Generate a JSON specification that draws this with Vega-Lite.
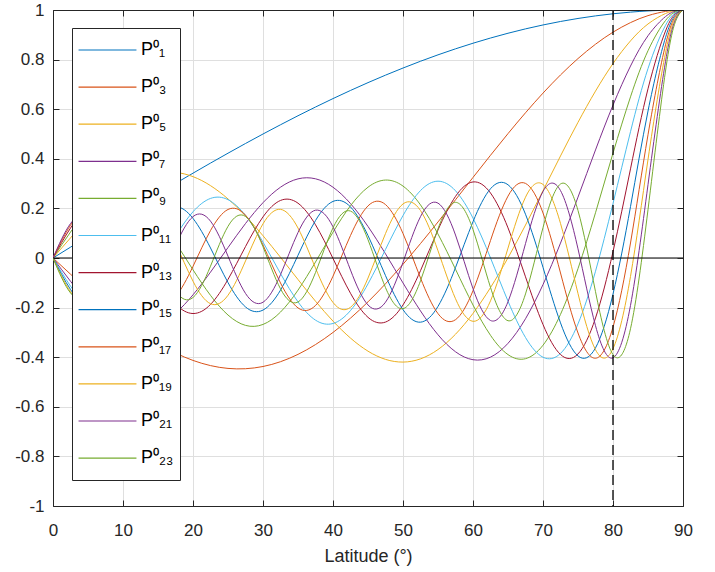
{
  "$schema": "https://vega.github.io/schema/vega-lite/v6.json",
  "width": 630,
  "height": 496,
  "autosize": {"type": "none"},
  "padding": {"left": 53, "top": 10, "right": 32, "bottom": 66},
  "background": "white",
  "config": {"view": {"stroke": null}, "font": "Liberation Sans"},
  "data": {"values": [
{"n":"P⁰₁","lat":0,"v":0},{"n":"P⁰₁","lat":2.5,"v":0.0436},{"n":"P⁰₁","lat":5,"v":0.0872},{"n":"P⁰₁","lat":7.5,"v":0.1305},{"n":"P⁰₁","lat":10,"v":0.1736},{"n":"P⁰₁","lat":12.5,"v":0.2164},{"n":"P⁰₁","lat":15,"v":0.2588},{"n":"P⁰₁","lat":17.5,"v":0.3007},{"n":"P⁰₁","lat":20,"v":0.342},{"n":"P⁰₁","lat":22.5,"v":0.3827},{"n":"P⁰₁","lat":25,"v":0.4226},{"n":"P⁰₁","lat":27.5,"v":0.4617},{"n":"P⁰₁","lat":30,"v":0.5},{"n":"P⁰₁","lat":32.5,"v":0.5373},{"n":"P⁰₁","lat":35,"v":0.5736},{"n":"P⁰₁","lat":37.5,"v":0.6088},{"n":"P⁰₁","lat":40,"v":0.6428},{"n":"P⁰₁","lat":42.5,"v":0.6756},{"n":"P⁰₁","lat":45,"v":0.7071},{"n":"P⁰₁","lat":47.5,"v":0.7373},{"n":"P⁰₁","lat":50,"v":0.766},{"n":"P⁰₁","lat":52.5,"v":0.7934},{"n":"P⁰₁","lat":55,"v":0.8192},{"n":"P⁰₁","lat":57.5,"v":0.8434},{"n":"P⁰₁","lat":60,"v":0.866},{"n":"P⁰₁","lat":62.5,"v":0.887},{"n":"P⁰₁","lat":65,"v":0.9063},{"n":"P⁰₁","lat":67.5,"v":0.9239},{"n":"P⁰₁","lat":70,"v":0.9397},{"n":"P⁰₁","lat":72.5,"v":0.9537},{"n":"P⁰₁","lat":75,"v":0.9659},{"n":"P⁰₁","lat":77.5,"v":0.9763},{"n":"P⁰₁","lat":80,"v":0.9848},{"n":"P⁰₁","lat":82.5,"v":0.9914},{"n":"P⁰₁","lat":85,"v":0.9962},{"n":"P⁰₁","lat":87.5,"v":0.999},{"n":"P⁰₁","lat":89,"v":0.9998},{"n":"P⁰₁","lat":90,"v":1},
{"n":"P⁰₃","lat":0,"v":0},{"n":"P⁰₃","lat":2.5,"v":-0.0652},{"n":"P⁰₃","lat":5,"v":-0.1291},{"n":"P⁰₃","lat":7.5,"v":-0.1902},{"n":"P⁰₃","lat":10,"v":-0.2474},{"n":"P⁰₃","lat":12.5,"v":-0.2993},{"n":"P⁰₃","lat":15,"v":-0.3449},{"n":"P⁰₃","lat":17.5,"v":-0.3831},{"n":"P⁰₃","lat":20,"v":-0.413},{"n":"P⁰₃","lat":22.5,"v":-0.4339},{"n":"P⁰₃","lat":25,"v":-0.4452},{"n":"P⁰₃","lat":27.5,"v":-0.4465},{"n":"P⁰₃","lat":30,"v":-0.4375},{"n":"P⁰₃","lat":32.5,"v":-0.4182},{"n":"P⁰₃","lat":35,"v":-0.3886},{"n":"P⁰₃","lat":37.5,"v":-0.3491},{"n":"P⁰₃","lat":40,"v":-0.3002},{"n":"P⁰₃","lat":42.5,"v":-0.2425},{"n":"P⁰₃","lat":45,"v":-0.1768},{"n":"P⁰₃","lat":47.5,"v":-0.104},{"n":"P⁰₃","lat":50,"v":-0.0252},{"n":"P⁰₃","lat":52.5,"v":0.0583},{"n":"P⁰₃","lat":55,"v":0.1454},{"n":"P⁰₃","lat":57.5,"v":0.2347},{"n":"P⁰₃","lat":60,"v":0.3248},{"n":"P⁰₃","lat":62.5,"v":0.4142},{"n":"P⁰₃","lat":65,"v":0.5016},{"n":"P⁰₃","lat":67.5,"v":0.5856},{"n":"P⁰₃","lat":70,"v":0.6649},{"n":"P⁰₃","lat":72.5,"v":0.7381},{"n":"P⁰₃","lat":75,"v":0.8042},{"n":"P⁰₃","lat":77.5,"v":0.862},{"n":"P⁰₃","lat":80,"v":0.9106},{"n":"P⁰₃","lat":82.5,"v":0.9492},{"n":"P⁰₃","lat":85,"v":0.9773},{"n":"P⁰₃","lat":87.5,"v":0.9943},{"n":"P⁰₃","lat":89,"v":0.9991},{"n":"P⁰₃","lat":90,"v":1},
{"n":"P⁰₅","lat":0,"v":0},{"n":"P⁰₅","lat":2.5,"v":0.0811},{"n":"P⁰₅","lat":5,"v":0.1577},{"n":"P⁰₅","lat":7.5,"v":0.2256},{"n":"P⁰₅","lat":10,"v":0.281},{"n":"P⁰₅","lat":12.5,"v":0.3208},{"n":"P⁰₅","lat":15,"v":0.3427},{"n":"P⁰₅","lat":17.5,"v":0.3453},{"n":"P⁰₅","lat":20,"v":0.3281},{"n":"P⁰₅","lat":22.5,"v":0.2918},{"n":"P⁰₅","lat":25,"v":0.2381},{"n":"P⁰₅","lat":27.5,"v":0.1696},{"n":"P⁰₅","lat":30,"v":0.0898},{"n":"P⁰₅","lat":32.5,"v":0.0028},{"n":"P⁰₅","lat":35,"v":-0.0868},{"n":"P⁰₅","lat":37.5,"v":-0.1742},{"n":"P⁰₅","lat":40,"v":-0.2545},{"n":"P⁰₅","lat":42.5,"v":-0.323},{"n":"P⁰₅","lat":45,"v":-0.3757},{"n":"P⁰₅","lat":47.5,"v":-0.4088},{"n":"P⁰₅","lat":50,"v":-0.4197},{"n":"P⁰₅","lat":52.5,"v":-0.4067},{"n":"P⁰₅","lat":55,"v":-0.3691},{"n":"P⁰₅","lat":57.5,"v":-0.3074},{"n":"P⁰₅","lat":60,"v":-0.2233},{"n":"P⁰₅","lat":62.5,"v":-0.1193},{"n":"P⁰₅","lat":65,"v":0.0009},{"n":"P⁰₅","lat":67.5,"v":0.1328},{"n":"P⁰₅","lat":70,"v":0.2715},{"n":"P⁰₅","lat":72.5,"v":0.4115},{"n":"P⁰₅","lat":75,"v":0.5471},{"n":"P⁰₅","lat":77.5,"v":0.673},{"n":"P⁰₅","lat":80,"v":0.784},{"n":"P⁰₅","lat":82.5,"v":0.8755},{"n":"P⁰₅","lat":85,"v":0.9437},{"n":"P⁰₅","lat":87.5,"v":0.9858},{"n":"P⁰₅","lat":89,"v":0.9977},{"n":"P⁰₅","lat":90,"v":1},
{"n":"P⁰₇","lat":0,"v":0},{"n":"P⁰₇","lat":2.5,"v":-0.0938},{"n":"P⁰₇","lat":5,"v":-0.1778},{"n":"P⁰₇","lat":7.5,"v":-0.2434},{"n":"P⁰₇","lat":10,"v":-0.2835},{"n":"P⁰₇","lat":12.5,"v":-0.2938},{"n":"P⁰₇","lat":15,"v":-0.2731},{"n":"P⁰₇","lat":17.5,"v":-0.223},{"n":"P⁰₇","lat":20,"v":-0.1485},{"n":"P⁰₇","lat":22.5,"v":-0.057},{"n":"P⁰₇","lat":25,"v":0.0422},{"n":"P⁰₇","lat":27.5,"v":0.139},{"n":"P⁰₇","lat":30,"v":0.2231},{"n":"P⁰₇","lat":32.5,"v":0.2855},{"n":"P⁰₇","lat":35,"v":0.3191},{"n":"P⁰₇","lat":37.5,"v":0.3194},{"n":"P⁰₇","lat":40,"v":0.2854},{"n":"P⁰₇","lat":42.5,"v":0.2194},{"n":"P⁰₇","lat":45,"v":0.1271},{"n":"P⁰₇","lat":47.5,"v":0.0168},{"n":"P⁰₇","lat":50,"v":-0.1006},{"n":"P⁰₇","lat":52.5,"v":-0.2134},{"n":"P⁰₇","lat":55,"v":-0.3096},{"n":"P⁰₇","lat":57.5,"v":-0.3781},{"n":"P⁰₇","lat":60,"v":-0.4102},{"n":"P⁰₇","lat":62.5,"v":-0.3997},{"n":"P⁰₇","lat":65,"v":-0.3441},{"n":"P⁰₇","lat":67.5,"v":-0.2449},{"n":"P⁰₇","lat":70,"v":-0.1072},{"n":"P⁰₇","lat":72.5,"v":0.0601},{"n":"P⁰₇","lat":75,"v":0.2455},{"n":"P⁰₇","lat":77.5,"v":0.4357},{"n":"P⁰₇","lat":80,"v":0.6164},{"n":"P⁰₇","lat":82.5,"v":0.774},{"n":"P⁰₇","lat":85,"v":0.8962},{"n":"P⁰₇","lat":87.5,"v":0.9735},{"n":"P⁰₇","lat":89,"v":0.9957},{"n":"P⁰₇","lat":90,"v":1},
{"n":"P⁰₉","lat":0,"v":0},{"n":"P⁰₉","lat":2.5,"v":0.1044},{"n":"P⁰₉","lat":5,"v":0.1913},{"n":"P⁰₉","lat":7.5,"v":0.2462},{"n":"P⁰₉","lat":10,"v":0.2596},{"n":"P⁰₉","lat":12.5,"v":0.2292},{"n":"P⁰₉","lat":15,"v":0.1595},{"n":"P⁰₉","lat":17.5,"v":0.0619},{"n":"P⁰₉","lat":20,"v":-0.0476},{"n":"P⁰₉","lat":22.5,"v":-0.1507},{"n":"P⁰₉","lat":25,"v":-0.23},{"n":"P⁰₉","lat":27.5,"v":-0.2717},{"n":"P⁰₉","lat":30,"v":-0.2679},{"n":"P⁰₉","lat":32.5,"v":-0.2181},{"n":"P⁰₉","lat":35,"v":-0.1296},{"n":"P⁰₉","lat":37.5,"v":-0.0161},{"n":"P⁰₉","lat":40,"v":0.1041},{"n":"P⁰₉","lat":42.5,"v":0.2108},{"n":"P⁰₉","lat":45,"v":0.2855},{"n":"P⁰₉","lat":47.5,"v":0.3143},{"n":"P⁰₉","lat":50,"v":0.29},{"n":"P⁰₉","lat":52.5,"v":0.2141},{"n":"P⁰₉","lat":55,"v":0.0965},{"n":"P⁰₉","lat":57.5,"v":-0.0454},{"n":"P⁰₉","lat":60,"v":-0.1896},{"n":"P⁰₉","lat":62.5,"v":-0.3117},{"n":"P⁰₉","lat":65,"v":-0.3896},{"n":"P⁰₉","lat":67.5,"v":-0.406},{"n":"P⁰₉","lat":70,"v":-0.3517},{"n":"P⁰₉","lat":72.5,"v":-0.2272},{"n":"P⁰₉","lat":75,"v":-0.0428},{"n":"P⁰₉","lat":77.5,"v":0.1824},{"n":"P⁰₉","lat":80,"v":0.4228},{"n":"P⁰₉","lat":82.5,"v":0.6498},{"n":"P⁰₉","lat":85,"v":0.8358},{"n":"P⁰₉","lat":87.5,"v":0.9576},{"n":"P⁰₉","lat":89,"v":0.9931},{"n":"P⁰₉","lat":90,"v":1},
{"n":"P⁰₁₁","lat":0,"v":0},{"n":"P⁰₁₁","lat":2.5,"v":-0.1133},{"n":"P⁰₁₁","lat":5,"v":-0.1988},{"n":"P⁰₁₁","lat":7.5,"v":-0.2357},{"n":"P⁰₁₁","lat":10,"v":-0.2146},{"n":"P⁰₁₁","lat":12.5,"v":-0.1403},{"n":"P⁰₁₁","lat":15,"v":-0.0305},{"n":"P⁰₁₁","lat":17.5,"v":0.088},{"n":"P⁰₁₁","lat":20,"v":0.1864},{"n":"P⁰₁₁","lat":22.5,"v":0.2402},{"n":"P⁰₁₁","lat":25,"v":0.2352},{"n":"P⁰₁₁","lat":27.5,"v":0.1716},{"n":"P⁰₁₁","lat":30,"v":0.0639},{"n":"P⁰₁₁","lat":32.5,"v":-0.0626},{"n":"P⁰₁₁","lat":35,"v":-0.1769},{"n":"P⁰₁₁","lat":37.5,"v":-0.2506},{"n":"P⁰₁₁","lat":40,"v":-0.2641},{"n":"P⁰₁₁","lat":42.5,"v":-0.2118},{"n":"P⁰₁₁","lat":45,"v":-0.1042},{"n":"P⁰₁₁","lat":47.5,"v":0.0345},{"n":"P⁰₁₁","lat":50,"v":0.1712},{"n":"P⁰₁₁","lat":52.5,"v":0.272},{"n":"P⁰₁₁","lat":55,"v":0.3097},{"n":"P⁰₁₁","lat":57.5,"v":0.2711},{"n":"P⁰₁₁","lat":60,"v":0.1607},{"n":"P⁰₁₁","lat":62.5,"v":0.0004},{"n":"P⁰₁₁","lat":65,"v":-0.174},{"n":"P⁰₁₁","lat":67.5,"v":-0.3206},{"n":"P⁰₁₁","lat":70,"v":-0.4001},{"n":"P⁰₁₁","lat":72.5,"v":-0.3849},{"n":"P⁰₁₁","lat":75,"v":-0.2655},{"n":"P⁰₁₁","lat":77.5,"v":-0.0534},{"n":"P⁰₁₁","lat":80,"v":0.22},{"n":"P⁰₁₁","lat":82.5,"v":0.5093},{"n":"P⁰₁₁","lat":85,"v":0.764},{"n":"P⁰₁₁","lat":87.5,"v":0.9381},{"n":"P⁰₁₁","lat":89,"v":0.99},{"n":"P⁰₁₁","lat":90,"v":1},
{"n":"P⁰₁₃","lat":0,"v":0},{"n":"P⁰₁₃","lat":2.5,"v":0.1207},{"n":"P⁰₁₃","lat":5,"v":0.201},{"n":"P⁰₁₃","lat":7.5,"v":0.2138},{"n":"P⁰₁₃","lat":10,"v":0.1544},{"n":"P⁰₁₃","lat":12.5,"v":0.0424},{"n":"P⁰₁₃","lat":15,"v":-0.085},{"n":"P⁰₁₃","lat":17.5,"v":-0.1852},{"n":"P⁰₁₃","lat":20,"v":-0.2239},{"n":"P⁰₁₃","lat":22.5,"v":-0.1873},{"n":"P⁰₁₃","lat":25,"v":-0.0863},{"n":"P⁰₁₃","lat":27.5,"v":0.0461},{"n":"P⁰₁₃","lat":30,"v":0.1658},{"n":"P⁰₁₃","lat":32.5,"v":0.2321},{"n":"P⁰₁₃","lat":35,"v":0.221},{"n":"P⁰₁₃","lat":37.5,"v":0.1339},{"n":"P⁰₁₃","lat":40,"v":-0.0019},{"n":"P⁰₁₃","lat":42.5,"v":-0.1422},{"n":"P⁰₁₃","lat":45,"v":-0.2393},{"n":"P⁰₁₃","lat":47.5,"v":-0.2584},{"n":"P⁰₁₃","lat":50,"v":-0.1893},{"n":"P⁰₁₃","lat":52.5,"v":-0.051},{"n":"P⁰₁₃","lat":55,"v":0.1131},{"n":"P⁰₁₃","lat":57.5,"v":0.2484},{"n":"P⁰₁₃","lat":60,"v":0.3067},{"n":"P⁰₁₃","lat":62.5,"v":0.2621},{"n":"P⁰₁₃","lat":65,"v":0.1215},{"n":"P⁰₁₃","lat":67.5,"v":-0.0759},{"n":"P⁰₁₃","lat":70,"v":-0.2683},{"n":"P⁰₁₃","lat":72.5,"v":-0.3891},{"n":"P⁰₁₃","lat":75,"v":-0.3869},{"n":"P⁰₁₃","lat":77.5,"v":-0.2421},{"n":"P⁰₁₃","lat":80,"v":0.0253},{"n":"P⁰₁₃","lat":82.5,"v":0.3594},{"n":"P⁰₁₃","lat":85,"v":0.6823},{"n":"P⁰₁₃","lat":87.5,"v":0.9152},{"n":"P⁰₁₃","lat":89,"v":0.9862},{"n":"P⁰₁₃","lat":90,"v":1},
{"n":"P⁰₁₅","lat":0,"v":0},{"n":"P⁰₁₅","lat":2.5,"v":-0.1269},{"n":"P⁰₁₅","lat":5,"v":-0.1982},{"n":"P⁰₁₅","lat":7.5,"v":-0.1824},{"n":"P⁰₁₅","lat":10,"v":-0.086},{"n":"P⁰₁₅","lat":12.5,"v":0.0491},{"n":"P⁰₁₅","lat":15,"v":0.1638},{"n":"P⁰₁₅","lat":17.5,"v":0.2074},{"n":"P⁰₁₅","lat":20,"v":0.1597},{"n":"P⁰₁₅","lat":22.5,"v":0.0404},{"n":"P⁰₁₅","lat":25,"v":-0.099},{"n":"P⁰₁₅","lat":27.5,"v":-0.1973},{"n":"P⁰₁₅","lat":30,"v":-0.21},{"n":"P⁰₁₅","lat":32.5,"v":-0.1295},{"n":"P⁰₁₅","lat":35,"v":0.011},{"n":"P⁰₁₅","lat":37.5,"v":0.151},{"n":"P⁰₁₅","lat":40,"v":0.2282},{"n":"P⁰₁₅","lat":42.5,"v":0.206},{"n":"P⁰₁₅","lat":45,"v":0.0904},{"n":"P⁰₁₅","lat":47.5,"v":-0.071},{"n":"P⁰₁₅","lat":50,"v":-0.2083},{"n":"P⁰₁₅","lat":52.5,"v":-0.2588},{"n":"P⁰₁₅","lat":55,"v":-0.1951},{"n":"P⁰₁₅","lat":57.5,"v":-0.0386},{"n":"P⁰₁₅","lat":60,"v":0.1466},{"n":"P⁰₁₅","lat":62.5,"v":0.2793},{"n":"P⁰₁₅","lat":65,"v":0.2953},{"n":"P⁰₁₅","lat":67.5,"v":0.1764},{"n":"P⁰₁₅","lat":70,"v":-0.0377},{"n":"P⁰₁₅","lat":72.5,"v":-0.2615},{"n":"P⁰₁₅","lat":75,"v":-0.3949},{"n":"P⁰₁₅","lat":77.5,"v":-0.3625},{"n":"P⁰₁₅","lat":80,"v":-0.1453},{"n":"P⁰₁₅","lat":82.5,"v":0.2073},{"n":"P⁰₁₅","lat":85,"v":0.5926},{"n":"P⁰₁₅","lat":87.5,"v":0.8889},{"n":"P⁰₁₅","lat":89,"v":0.9818},{"n":"P⁰₁₅","lat":90,"v":1},
{"n":"P⁰₁₇","lat":0,"v":0},{"n":"P⁰₁₇","lat":2.5,"v":0.132},{"n":"P⁰₁₇","lat":5,"v":0.1909},{"n":"P⁰₁₇","lat":7.5,"v":0.1439},{"n":"P⁰₁₇","lat":10,"v":0.0165},{"n":"P⁰₁₇","lat":12.5,"v":-0.121},{"n":"P⁰₁₇","lat":15,"v":-0.1924},{"n":"P⁰₁₇","lat":17.5,"v":-0.1572},{"n":"P⁰₁₇","lat":20,"v":-0.0337},{"n":"P⁰₁₇","lat":22.5,"v":0.1107},{"n":"P⁰₁₇","lat":25,"v":0.1957},{"n":"P⁰₁₇","lat":27.5,"v":0.1727},{"n":"P⁰₁₇","lat":30,"v":0.0522},{"n":"P⁰₁₇","lat":32.5,"v":-0.1007},{"n":"P⁰₁₇","lat":35,"v":-0.2012},{"n":"P⁰₁₇","lat":37.5,"v":-0.1915},{"n":"P⁰₁₇","lat":40,"v":-0.0733},{"n":"P⁰₁₇","lat":42.5,"v":0.0908},{"n":"P⁰₁₇","lat":45,"v":0.2101},{"n":"P⁰₁₇","lat":47.5,"v":0.2155},{"n":"P⁰₁₇","lat":50,"v":0.0987},{"n":"P⁰₁₇","lat":52.5,"v":-0.0807},{"n":"P⁰₁₇","lat":55,"v":-0.2244},{"n":"P⁰₁₇","lat":57.5,"v":-0.2488},{"n":"P⁰₁₇","lat":60,"v":-0.1319},{"n":"P⁰₁₇","lat":62.5,"v":0.0704},{"n":"P⁰₁₇","lat":65,"v":0.2495},{"n":"P⁰₁₇","lat":67.5,"v":0.3009},{"n":"P⁰₁₇","lat":70,"v":0.1815},{"n":"P⁰₁₇","lat":72.5,"v":-0.0604},{"n":"P⁰₁₇","lat":75,"v":-0.3024},{"n":"P⁰₁₇","lat":77.5,"v":-0.4043},{"n":"P⁰₁₇","lat":80,"v":-0.2787},{"n":"P⁰₁₇","lat":82.5,"v":0.0605},{"n":"P⁰₁₇","lat":85,"v":0.4968},{"n":"P⁰₁₇","lat":87.5,"v":0.8595},{"n":"P⁰₁₇","lat":89,"v":0.9768},{"n":"P⁰₁₇","lat":90,"v":1},
{"n":"P⁰₁₉","lat":0,"v":0},{"n":"P⁰₁₉","lat":2.5,"v":-0.1359},{"n":"P⁰₁₉","lat":5,"v":-0.1794},{"n":"P⁰₁₉","lat":7.5,"v":-0.1007},{"n":"P⁰₁₉","lat":10,"v":0.0473},{"n":"P⁰₁₉","lat":12.5,"v":0.1641},{"n":"P⁰₁₉","lat":15,"v":0.1697},{"n":"P⁰₁₉","lat":17.5,"v":0.0591},{"n":"P⁰₁₉","lat":20,"v":-0.0936},{"n":"P⁰₁₉","lat":22.5,"v":-0.1844},{"n":"P⁰₁₉","lat":25,"v":-0.1502},{"n":"P⁰₁₉","lat":27.5,"v":-0.0119},{"n":"P⁰₁₉","lat":30,"v":0.1378},{"n":"P⁰₁₉","lat":32.5,"v":0.1962},{"n":"P⁰₁₉","lat":35,"v":0.1208},{"n":"P⁰₁₉","lat":37.5,"v":-0.0405},{"n":"P⁰₁₉","lat":40,"v":-0.1793},{"n":"P⁰₁₉","lat":42.5,"v":-0.1988},{"n":"P⁰₁₉","lat":45,"v":-0.0809},{"n":"P⁰₁₉","lat":47.5,"v":0.0986},{"n":"P⁰₁₉","lat":50,"v":0.218},{"n":"P⁰₁₉","lat":52.5,"v":0.1914},{"n":"P⁰₁₉","lat":55,"v":0.029},{"n":"P⁰₁₉","lat":57.5,"v":-0.1643},{"n":"P⁰₁₉","lat":60,"v":-0.2553},{"n":"P⁰₁₉","lat":62.5,"v":-0.1727},{"n":"P⁰₁₉","lat":65,"v":0.04},{"n":"P⁰₁₉","lat":67.5,"v":0.2451},{"n":"P⁰₁₉","lat":70,"v":0.2966},{"n":"P⁰₁₉","lat":72.5,"v":0.1395},{"n":"P⁰₁₉","lat":75,"v":-0.1433},{"n":"P⁰₁₉","lat":77.5,"v":-0.3699},{"n":"P⁰₁₉","lat":80,"v":-0.3659},{"n":"P⁰₁₉","lat":82.5,"v":-0.0744},{"n":"P⁰₁₉","lat":85,"v":0.3972},{"n":"P⁰₁₉","lat":87.5,"v":0.8271},{"n":"P⁰₁₉","lat":89,"v":0.9713},{"n":"P⁰₁₉","lat":90,"v":1},
{"n":"P⁰₂₁","lat":0,"v":0},{"n":"P⁰₂₁","lat":2.5,"v":0.1388},{"n":"P⁰₂₁","lat":5,"v":0.1644},{"n":"P⁰₂₁","lat":7.5,"v":0.0554},{"n":"P⁰₂₁","lat":10,"v":-0.0996},{"n":"P⁰₂₁","lat":12.5,"v":-0.1741},{"n":"P⁰₂₁","lat":15,"v":-0.1064},{"n":"P⁰₂₁","lat":17.5,"v":0.0496},{"n":"P⁰₂₁","lat":20,"v":0.1669},{"n":"P⁰₂₁","lat":22.5,"v":0.1486},{"n":"P⁰₂₁","lat":25,"v":0.0074},{"n":"P⁰₂₁","lat":27.5,"v":-0.1428},{"n":"P⁰₂₁","lat":30,"v":-0.1784},{"n":"P⁰₂₁","lat":32.5,"v":-0.0672},{"n":"P⁰₂₁","lat":35,"v":0.1028},{"n":"P⁰₂₁","lat":37.5,"v":0.1928},{"n":"P⁰₂₁","lat":40,"v":0.1256},{"n":"P⁰₂₁","lat":42.5,"v":-0.0487},{"n":"P⁰₂₁","lat":45,"v":-0.1895},{"n":"P⁰₂₁","lat":47.5,"v":-0.1782},{"n":"P⁰₂₁","lat":50,"v":-0.0172},{"n":"P⁰₂₁","lat":52.5,"v":0.1669},{"n":"P⁰₂₁","lat":55,"v":0.2213},{"n":"P⁰₂₁","lat":57.5,"v":0.0926},{"n":"P⁰₂₁","lat":60,"v":-0.1237},{"n":"P⁰₂₁","lat":62.5,"v":-0.2519},{"n":"P⁰₂₁","lat":65,"v":-0.1763},{"n":"P⁰₂₁","lat":67.5,"v":0.058},{"n":"P⁰₂₁","lat":70,"v":0.2683},{"n":"P⁰₂₁","lat":72.5,"v":0.2719},{"n":"P⁰₂₁","lat":75,"v":0.0369},{"n":"P⁰₂₁","lat":77.5,"v":-0.2729},{"n":"P⁰₂₁","lat":80,"v":-0.4025},{"n":"P⁰₂₁","lat":82.5,"v":-0.1912},{"n":"P⁰₂₁","lat":85,"v":0.2957},{"n":"P⁰₂₁","lat":87.5,"v":0.7918},{"n":"P⁰₂₁","lat":89,"v":0.9651},{"n":"P⁰₂₁","lat":90,"v":1},
{"n":"P⁰₂₃","lat":0,"v":0},{"n":"P⁰₂₃","lat":2.5,"v":-0.1408},{"n":"P⁰₂₃","lat":5,"v":-0.1462},{"n":"P⁰₂₃","lat":7.5,"v":-0.0107},{"n":"P⁰₂₃","lat":10,"v":0.1359},{"n":"P⁰₂₃","lat":12.5,"v":0.1524},{"n":"P⁰₂₃","lat":15,"v":0.0216},{"n":"P⁰₂₃","lat":17.5,"v":-0.1316},{"n":"P⁰₂₃","lat":20,"v":-0.1594},{"n":"P⁰₂₃","lat":22.5,"v":-0.033},{"n":"P⁰₂₃","lat":25,"v":0.1277},{"n":"P⁰₂₃","lat":27.5,"v":0.1676},{"n":"P⁰₂₃","lat":30,"v":0.0452},{"n":"P⁰₂₃","lat":32.5,"v":-0.1244},{"n":"P⁰₂₃","lat":35,"v":-0.1774},{"n":"P⁰₂₃","lat":37.5,"v":-0.0587},{"n":"P⁰₂₃","lat":40,"v":0.1215},{"n":"P⁰₂₃","lat":42.5,"v":0.1893},{"n":"P⁰₂₃","lat":45,"v":0.0739},{"n":"P⁰₂₃","lat":47.5,"v":-0.1193},{"n":"P⁰₂₃","lat":50,"v":-0.2043},{"n":"P⁰₂₃","lat":52.5,"v":-0.092},{"n":"P⁰₂₃","lat":55,"v":0.1181},{"n":"P⁰₂₃","lat":57.5,"v":0.2244},{"n":"P⁰₂₃","lat":60,"v":0.1145},{"n":"P⁰₂₃","lat":62.5,"v":-0.1186},{"n":"P⁰₂₃","lat":65,"v":-0.2529},{"n":"P⁰₂₃","lat":67.5,"v":-0.1449},{"n":"P⁰₂₃","lat":70,"v":0.1225},{"n":"P⁰₂₃","lat":72.5,"v":0.2985},{"n":"P⁰₂₃","lat":75,"v":0.1916},{"n":"P⁰₂₃","lat":77.5,"v":-0.1357},{"n":"P⁰₂₃","lat":80,"v":-0.3895},{"n":"P⁰₂₃","lat":82.5,"v":-0.2852},{"n":"P⁰₂₃","lat":85,"v":0.1948},{"n":"P⁰₂₃","lat":87.5,"v":0.7539},{"n":"P⁰₂₃","lat":89,"v":0.9584},{"n":"P⁰₂₃","lat":90,"v":1}
  ]},
  "layer": [
    {
      "mark": {"type": "line", "interpolate": "natural", "strokeWidth": 1, "clip": true},
      "encoding": {
        "x": {
          "field": "lat", "type": "quantitative",
          "scale": {"domain": [0, 90], "nice": false, "zero": false},
          "axis": {
            "orient": "bottom", "values": [0, 10, 20, 30, 40, 50, 60, 70, 80, 90],
            "grid": true, "gridColor": "#dfdfdf", "gridWidth": 1,
            "domainColor": "#262626", "domainWidth": 1,
            "tickColor": "#262626", "tickSize": -6, "tickWidth": 1,
            "labelFont": "Liberation Sans", "labelFontSize": 17, "labelColor": "#262626", "labelPadding": 22,
            "labelFlush": false, "labelOverlap": false,
            "title": "Latitude (°)", "titleFont": "Liberation Sans", "titleFontSize": 18,
            "titleFontWeight": "normal", "titleColor": "#262626", "titlePadding": 9
          }
        },
        "y": {
          "field": "v", "type": "quantitative",
          "scale": {"domain": [-1, 1], "nice": false, "zero": false},
          "axis": {
            "orient": "left", "values": [-1, -0.8, -0.6, -0.4, -0.2, 0, 0.2, 0.4, 0.6, 0.8, 1],
            "grid": true, "gridColor": "#dfdfdf", "gridWidth": 1,
            "domainColor": "#262626", "domainWidth": 1,
            "tickColor": "#262626", "tickSize": -6, "tickWidth": 1,
            "labelFont": "Liberation Sans", "labelFontSize": 17, "labelColor": "#262626", "labelPadding": 15,
            "labelFlush": false, "labelOverlap": false,
            "labelExpr": "toString(round(datum.value*10)/10)",
            "title": null
          }
        },
        "color": {
          "field": "n", "type": "nominal",
          "scale": {
            "domain": ["P⁰₁","P⁰₃","P⁰₅","P⁰₇","P⁰₉","P⁰₁₁","P⁰₁₃","P⁰₁₅","P⁰₁₇","P⁰₁₉","P⁰₂₁","P⁰₂₃"],
            "range": ["#0072BD","#D95319","#EDB120","#7E2F8E","#77AC30","#4DBEEE","#A2142F","#0072BD","#D95319","#EDB120","#7E2F8E","#77AC30"]
          },
          "legend": {
            "orient": "none", "legendX": 19, "legendY": 18, "title": null,
            "symbolType": "M-1.03,-0.84M-1.03,0.84M-1.03,0H2.83",
            "symbolSize": 900, "symbolStrokeWidth": 1.2,
            "labelFont": "Liberation Sans", "labelFontSize": 18, "labelColor": "#000000",
            "labelOffset": 31, "rowPadding": 6.1, "padding": 6,
            "strokeColor": "#262626", "fillColor": "white", "labelLimit": 300,
            "encode": {
              "symbols": {
                "update": {
                  "stroke": {"scale": "color", "field": "value"},
                  "fill": {"value": "transparent"},
                  "strokeWidth": {"value": 1.2},
                  "opacity": {"value": 1}
                }
              }
            }
          }
        }
      }
    },
    {
      "data": {"values": [{"lat": 80}]},
      "mark": {"type": "rule", "color": "#000000", "strokeWidth": 1.3, "strokeDash": [10, 5]},
      "encoding": {
        "x": {
          "field": "lat", "type": "quantitative",
          "axis": {
            "orient": "top", "values": [0, 10, 20, 30, 40, 50, 60, 70, 80, 90],
            "labels": false, "grid": false, "title": null,
            "domainColor": "#262626", "domainWidth": 1,
            "tickColor": "#262626", "tickSize": -6, "tickWidth": 1, "zindex": 1
          }
        }
      }
    },
    {
      "data": {"values": [{"v": 0}]},
      "mark": {"type": "rule", "color": "#000000", "strokeWidth": 1},
      "encoding": {
        "y": {
          "field": "v", "type": "quantitative",
          "axis": {
            "orient": "right", "values": [-1, -0.8, -0.6, -0.4, -0.2, 0, 0.2, 0.4, 0.6, 0.8, 1],
            "labels": false, "grid": false, "title": null,
            "domainColor": "#262626", "domainWidth": 1,
            "tickColor": "#262626", "tickSize": -6, "tickWidth": 1, "zindex": 1
          }
        }
      }
    }
  ],
  "resolve": {"axis": {"x": "independent", "y": "independent"}}
}
